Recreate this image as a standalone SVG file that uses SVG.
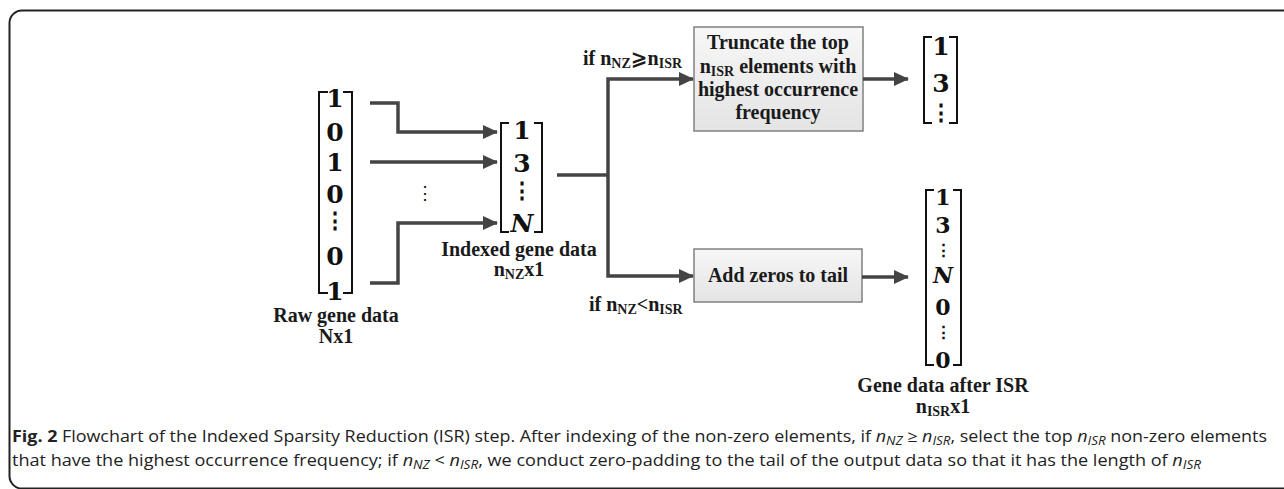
<svg xmlns="http://www.w3.org/2000/svg" width="1284" height="489" viewBox="0 0 1284 489">
<style>
.lbl{font-family:"Liberation Serif","Times New Roman",serif;font-weight:bold;font-size:20px;fill:#1a1a1a}
.dig{font-family:"DejaVu Serif","Liberation Serif",serif;font-weight:bold;font-size:25px;fill:#111;text-anchor:middle}
.dig2{font-family:"DejaVu Serif","Liberation Serif",serif;font-weight:bold;font-size:22px;fill:#111;text-anchor:middle}
.dots{font-family:"DejaVu Serif",serif;font-weight:bold;font-size:22px;fill:#111;text-anchor:middle}
.dots2{font-family:"DejaVu Serif",serif;font-weight:bold;font-size:17px;fill:#111;text-anchor:middle}
.brk{fill:none;stroke:#111;stroke-width:2}
.con{fill:none;stroke:#444;stroke-width:3.5}
.box{fill:url(#g);stroke:#808080;stroke-width:1.5}
.sub{font-size:14px}
.csub{font-size:12px}
.cap{font-family:"Open Sans","Noto Sans",sans-serif;font-size:16px;fill:#222}
.c{text-anchor:middle}
</style>
<defs>
<linearGradient id="g" x1="0" y1="0" x2="0" y2="1">
<stop offset="0" stop-color="#f7f7f7"/>
<stop offset="1" stop-color="#e4e4e4"/>
</linearGradient>
<marker id="ah" markerUnits="userSpaceOnUse" markerWidth="16" markerHeight="16" refX="14" refY="8" orient="auto">
<path d="M0,1 L15,8 L0,15 z" fill="#444"/>
</marker>
</defs>

<path d="M1284,10.5 H22 A12.5,12.5 0 0 0 9.5,23 V476 A12.5,12.5 0 0 0 22,488.5 H1284" fill="none" stroke="#222" stroke-width="2"/>

<g id="raw">
<path class="brk" d="M328,92 H319 V293 H328 M343,92 H352 V293 H343"/>
<text class="dig" x="335" y="107">1</text>
<text class="dig" x="335" y="141">0</text>
<text class="dig" x="335" y="171">1</text>
<text class="dig" x="335" y="203">0</text>
<text class="dots" x="335" y="228">⋮</text>
<text class="dig" x="335" y="265">0</text>
<text class="dig" x="335" y="300">1</text>
<text class="lbl c" x="336" y="322">Raw gene data</text>
<text class="lbl c" x="336" y="343">Nx1</text>
</g>

<g id="indexed">
<path class="brk" d="M509,123 H501 V232 H509 M534,123 H542 V232 H534"/>
<text class="dig" x="522" y="139">1</text>
<text class="dig" x="522" y="172">3</text>
<text class="dots" x="522" y="198">⋮</text>
<text class="dig" x="522" y="232" font-style="italic">N</text>
<text class="lbl c" x="519" y="256">Indexed gene data</text>
<text class="lbl c" x="519" y="276">n<tspan class="sub" dy="3">NZ</tspan><tspan dy="-3">x1</tspan></text>
</g>

<g id="truncate">
<rect class="box" x="694" y="27" width="169" height="104"/>
<text class="lbl c" x="778" y="49">Truncate the top</text>
<text class="lbl c" x="778" y="73">n<tspan class="sub" dy="3">ISR</tspan><tspan dy="-3"> elements with</tspan></text>
<text class="lbl c" x="778" y="96">highest occurrence</text>
<text class="lbl c" x="778" y="119">frequency</text>
</g>

<g id="addzeros">
<rect class="box" x="694" y="249" width="168" height="53"/>
<text class="lbl c" x="778" y="282">Add zeros to tail</text>
</g>

<g id="out1">
<path class="brk" d="M932,37 H924 V123 H932 M949,37 H957 V123 H949"/>
<text class="dig" x="941" y="55">1</text>
<text class="dig" x="941" y="92">3</text>
<text class="dots" x="941" y="120">⋮</text>
</g>

<g id="out2">
<path class="brk" d="M934,190 H926 V365 H934 M953,190 H961 V365 H953"/>
<text class="dig2" x="943" y="205">1</text>
<text class="dig2" x="943" y="233">3</text>
<text class="dots2" x="943" y="256">⋮</text>
<text class="dig2" x="943" y="283" font-style="italic">N</text>
<text class="dig2" x="943" y="315">0</text>
<text class="dots2" x="943" y="338">⋮</text>
<text class="dig2" x="943" y="368">0</text>
<text class="lbl c" x="943" y="392">Gene data after ISR</text>
<text class="lbl c" x="943" y="413">n<tspan class="sub" dy="3">ISR</tspan><tspan dy="-3">x1</tspan></text>
</g>

<g id="connectors">
<path class="con" marker-end="url(#ah)" d="M370,103 H398 V132 H497"/>
<path class="con" marker-end="url(#ah)" d="M370,162 H497"/>
<path class="con" marker-end="url(#ah)" d="M370,283 H398 V223 H497"/>
<text class="dots" x="425" y="199" style="font-weight:normal;font-size:18px">⋮</text>
<path class="con" d="M557,175 H608"/>
<path class="con" marker-end="url(#ah)" d="M608,175 V79 H693"/>
<path class="con" marker-end="url(#ah)" d="M608,175 V276 H693"/>
<path class="con" marker-end="url(#ah)" d="M863,79 H908"/>
<path class="con" marker-end="url(#ah)" d="M862,277 H908"/>
<text class="lbl" x="583" y="65">if n<tspan class="sub" dy="3">NZ</tspan><tspan dy="-3" font-family="DejaVu Sans">⩾</tspan>n<tspan class="sub" dy="3">ISR</tspan></text>
<text class="lbl" x="589" y="311">if n<tspan class="sub" dy="3">NZ</tspan><tspan dy="-3">&lt;</tspan>n<tspan class="sub" dy="3">ISR</tspan></text>
</g>

<g id="caption">
<text class="cap" x="12" y="442" textLength="1255" lengthAdjust="spacingAndGlyphs"><tspan font-weight="bold">Fig. 2</tspan> Flowchart of the Indexed Sparsity Reduction (ISR) step. After indexing of the non-zero elements, if <tspan font-style="italic">n</tspan><tspan font-style="italic" class="csub" dy="3">NZ</tspan><tspan dy="-3"> ≥ </tspan><tspan font-style="italic">n</tspan><tspan font-style="italic" class="csub" dy="3">ISR</tspan><tspan dy="-3">, select the top </tspan><tspan font-style="italic">n</tspan><tspan font-style="italic" class="csub" dy="3">ISR</tspan><tspan dy="-3"> non-zero elements</tspan></text>
<text class="cap" x="12" y="466" textLength="1189" lengthAdjust="spacingAndGlyphs">that have the highest occurrence frequency; if <tspan font-style="italic">n</tspan><tspan font-style="italic" class="csub" dy="3">NZ</tspan><tspan dy="-3"> &lt; </tspan><tspan font-style="italic">n</tspan><tspan font-style="italic" class="csub" dy="3">ISR</tspan><tspan dy="-3">, we conduct zero-padding to the tail of the output data so that it has the length of </tspan><tspan font-style="italic">n</tspan><tspan font-style="italic" class="csub" dy="3">ISR</tspan></text>
</g>
</svg>
